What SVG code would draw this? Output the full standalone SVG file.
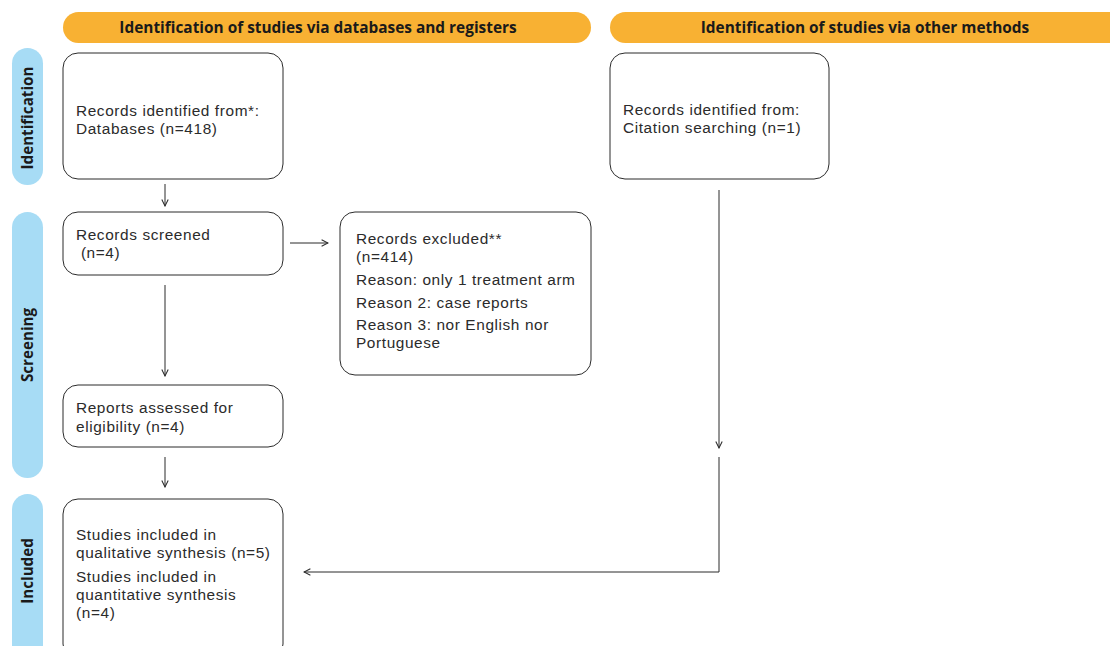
<svg xmlns="http://www.w3.org/2000/svg" width="1110" height="646" viewBox="0 0 1110 646">
<defs>
<style>
.hdr{fill:#F8B133}
.side{fill:#A7DCF5}
.box{fill:#fff;stroke:#2b2b2b;stroke-width:1}
.t{font-family:"Liberation Sans",Arial,sans-serif;font-size:15.4px;letter-spacing:0.6px;fill:#2b2b2b}
.h{font-family:"Open Sans","Liberation Sans",sans-serif;font-size:15.4px;font-weight:700;fill:#1a1a1a}
.s{font-family:"Open Sans","Liberation Sans",sans-serif;font-size:15.2px;font-weight:700;fill:#1a1a1a}
.c{fill:none;stroke:#2b2b2b;stroke-width:1}
</style>
<marker id="ah" viewBox="0 0 10 10" refX="9" refY="5" markerWidth="8" markerHeight="8" markerUnits="userSpaceOnUse" orient="auto">
<path d="M1,1 L9,5 L1,9" fill="none" stroke="#2b2b2b" stroke-width="1.3"/>
</marker>
</defs>
<rect width="1110" height="646" fill="#fff"/>
<g id="header-db">
<rect class="hdr" x="63" y="12" width="528" height="31" rx="15.5"/>
<text class="h" x="318" y="32.5" text-anchor="middle">Identification of studies via databases and registers</text>
</g>
<g id="header-other">
<rect class="hdr" x="610" y="12" width="520" height="31" rx="15.5"/>
<text class="h" x="865" y="32.5" text-anchor="middle">Identification of studies via other methods</text>
</g>
<g id="side-identification">
<rect class="side" x="12" y="48" width="31" height="137" rx="15.5"/>
<text class="s" transform="translate(32.5,118) rotate(-90)" text-anchor="middle">Identification</text>
</g>
<g id="side-screening">
<rect class="side" x="12" y="212" width="31" height="266" rx="15.5"/>
<text class="s" transform="translate(32.5,345) rotate(-90)" text-anchor="middle">Screening</text>
</g>
<g id="side-included">
<rect class="side" x="12" y="494" width="31" height="180" rx="15.5"/>
<text class="s" transform="translate(32.5,571) rotate(-90)" text-anchor="middle">Included</text>
</g>
<g id="records-db">
<rect class="box" x="63" y="53" width="220" height="126" rx="15"/>
<text class="t" x="76" y="116">Records identified from*:</text>
<text class="t" x="76" y="134">Databases (n=418)</text>
</g>
<g id="records-other">
<rect class="box" x="610" y="53" width="219" height="126" rx="15"/>
<text class="t" x="623" y="115">Records identified from:</text>
<text class="t" x="623" y="133">Citation searching (n=1)</text>
</g>
<g id="screened">
<rect class="box" x="63" y="212" width="220" height="63" rx="15"/>
<text class="t" x="76" y="240">Records screened</text>
<text class="t" x="76" y="258" xml:space="preserve"> (n=4)</text>
</g>
<g id="excluded">
<rect class="box" x="340" y="212" width="251" height="163" rx="15"/>
<text class="t" x="356" y="244">Records excluded**</text>
<text class="t" x="356" y="262">(n=414)</text>
<text class="t" x="356" y="285">Reason: only 1 treatment arm</text>
<text class="t" x="356" y="308">Reason 2: case reports</text>
<text class="t" x="356" y="330">Reason 3: nor English nor</text>
<text class="t" x="356" y="348">Portuguese</text>
</g>
<g id="assessed">
<rect class="box" x="63" y="385" width="220" height="62" rx="15"/>
<text class="t" x="76" y="413">Reports assessed for</text>
<text class="t" x="76" y="432">eligibility (n=4)</text>
</g>
<g id="included">
<rect class="box" x="63" y="499" width="220" height="160" rx="15"/>
<text class="t" x="76" y="540">Studies included in</text>
<text class="t" x="76" y="558">qualitative synthesis (n=5)</text>
<text class="t" x="76" y="582">Studies included in</text>
<text class="t" x="76" y="600">quantitative synthesis</text>
<text class="t" x="76" y="618">(n=4)</text>
</g>
<g id="connectors">
<line class="c" x1="165" y1="184" x2="165" y2="206" marker-end="url(#ah)"/>
<line class="c" x1="290" y1="243" x2="328" y2="243" marker-end="url(#ah)"/>
<line class="c" x1="165" y1="285" x2="165" y2="376" marker-end="url(#ah)"/>
<line class="c" x1="165" y1="457" x2="165" y2="487" marker-end="url(#ah)"/>
<line class="c" x1="719" y1="190" x2="719" y2="448" marker-end="url(#ah)"/>
<polyline class="c" points="719,457 719,572 304,572" marker-end="url(#ah)"/>
</g>
</svg>
